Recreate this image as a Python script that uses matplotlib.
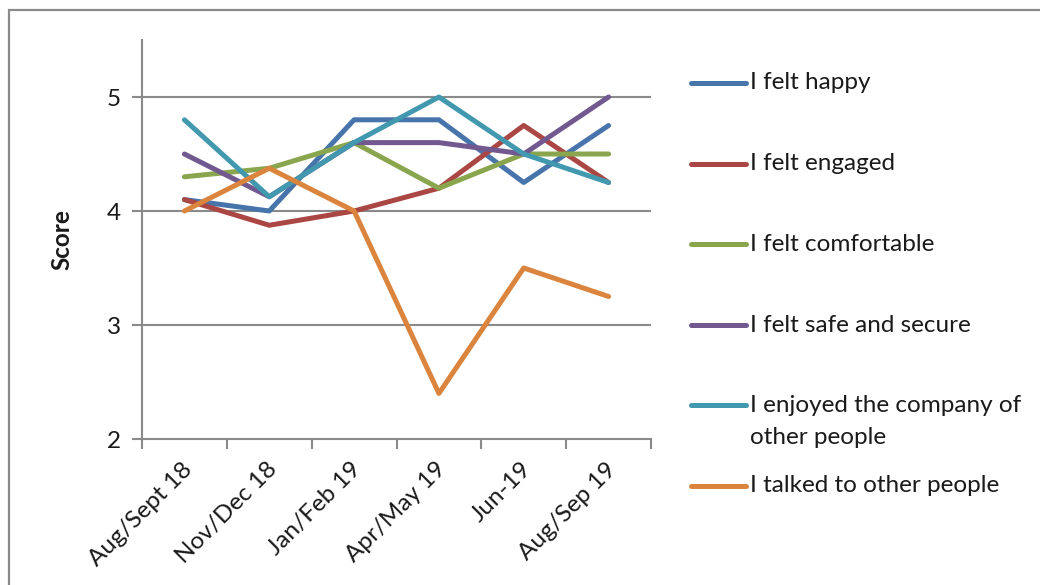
import matplotlib
matplotlib.use("Agg")
import matplotlib.pyplot as plt
from matplotlib.lines import Line2D
from matplotlib.patches import Rectangle
from matplotlib.transforms import ScaledTranslation, blended_transform_factory

plt.rcParams['font.family'] = ['Lato', 'DejaVu Sans']

periods = ["Aug/Sept 18", "Nov/Dec 18", "Jan/Feb 19", "Apr/May 19", "Jun-19", "Aug/Sep 19"]

felt_happy = [4.1, 4.0, 4.8, 4.8, 4.25, 4.75]
felt_engaged = [4.1, 3.875, 4.0, 4.2, 4.75, 4.25]
felt_comfortable = [4.3, 4.375, 4.6, 4.2, 4.5, 4.5]
felt_safe = [4.5, 4.125, 4.6, 4.6, 4.5, 5.0]
enjoyed_company = [4.8, 4.125, 4.6, 5.0, 4.5, 4.25]
talked_to_others = [4.0, 4.375, 4.0, 2.4, 3.5, 3.25]

series_names = ["I felt happy", "I felt engaged", "I felt comfortable",
                "I felt safe and secure", "I enjoyed the company of\nother people",
                "I talked to other people"]
series_values = [felt_happy, felt_engaged, felt_comfortable, felt_safe,
                 enjoyed_company, talked_to_others]
colors = ["#4674AB", "#AA4643", "#89A54E", "#71588F", "#4198AF", "#DB843D"]

FS = 17.5
TXT = "#1a1a1a"
GREY = "#8a8a8a"

W, H = 1040, 585
fig = plt.figure(figsize=(W / 100, H / 100), dpi=100)

# outer chart frame
fig.add_artist(Rectangle((9 / W, -0.05), 1.1, 1 - 9.5 / H + 0.05,
                         transform=fig.transFigure, fill=False,
                         edgecolor=GREY, linewidth=1.6))

ax = fig.add_axes([142 / W, 1 - 439 / H, (651 - 142) / W, (439 - 40) / H])
x = list(range(len(periods)))
for vals, c in zip(series_values, colors):
    ax.plot(x, vals, color=c, linewidth=3.6, solid_capstyle='round',
            solid_joinstyle='round', zorder=3)

ax.set_xlim(-0.5, len(periods) - 0.5)
ax.set_ylim(2, 5.5)
ax.set_yticks([2, 3, 4, 5])
ax.set_xticks([i - 0.5 for i in range(len(periods) + 1)])
ax.set_xticklabels([])
ax.tick_params(axis='x', length=7, width=1.5, color=GREY)
ax.tick_params(axis='y', length=7, width=1.5, color=GREY, labelsize=FS,
               labelcolor=TXT, pad=8)

# rotated category labels, anchored at their right end below each category
base = blended_transform_factory(ax.transData, ax.transAxes)
shift = ScaledTranslation(4 / 100, -27 / 100, fig.dpi_scale_trans)
for xi, lab in zip(x, periods):
    ax.text(xi, 0, lab, transform=base + shift, rotation=45, ha='right',
            va='center', rotation_mode='anchor', fontsize=FS, color=TXT)

for yv in [3, 4, 5]:
    ax.axhline(yv, color=GREY, linewidth=1.5, zorder=1)

for s in ['top', 'right']:
    ax.spines[s].set_visible(False)
for s in ['left', 'bottom']:
    ax.spines[s].set_color(GREY)
    ax.spines[s].set_linewidth(1.5)

ax.set_ylabel("Score", fontsize=FS, fontweight='bold', labelpad=24, color=TXT)

# legend drawn as line + label per series
legend_y = [83, 164, 244, 325, 405, 486]
for name, c, ly in zip(series_names, colors, legend_y):
    yf = 1 - ly / H
    fig.add_artist(Line2D([691 / W, 746 / W], [yf, yf], transform=fig.transFigure,
                          color=c, linewidth=3.6, solid_capstyle='round'))
    lines = name.split("\n")
    for k, part in enumerate(lines):
        fig.text(750 / W, 1 - (ly + 33 * k) / H, part, fontsize=FS, va='center',
                 ha='left', color=TXT)

fig.savefig("out.png", dpi=100)
